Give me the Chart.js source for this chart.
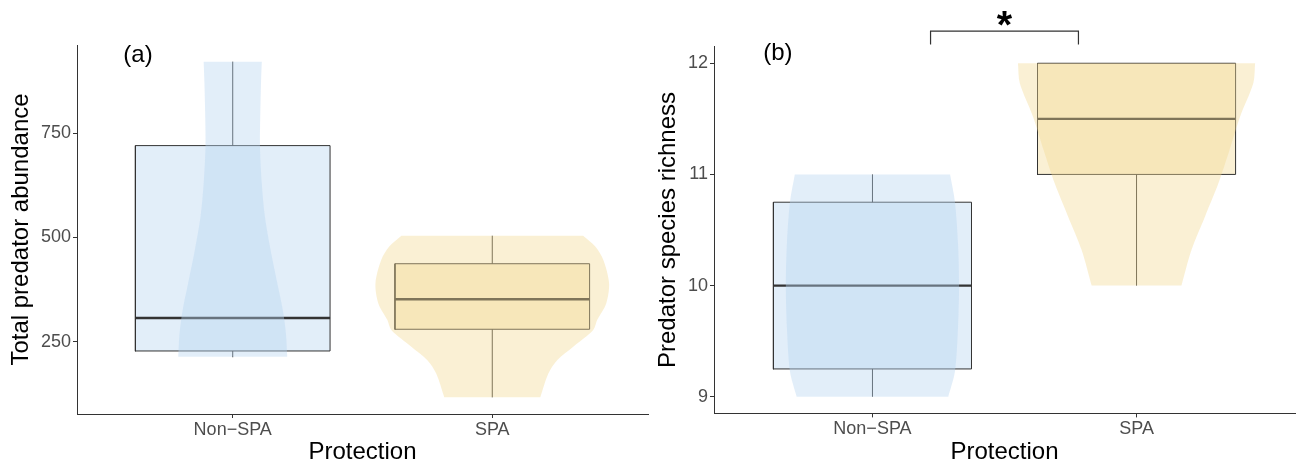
<!DOCTYPE html>
<html><head><meta charset="utf-8">
<script src="https://cdn.jsdelivr.net/npm/chart.js@4.4.1/dist/chart.umd.min.js"></script>
<style>
html,body{margin:0;padding:0;background:#fff;}
#wrap{position:relative;width:1300px;height:464px;overflow:hidden;}
canvas{position:absolute;top:0;}
#ca{left:0;} #cb{left:650px;}
</style></head><body>
<div id="wrap"><canvas id="ca" width="650" height="464"></canvas><canvas id="cb" width="650" height="464"></canvas></div>
<script>
// ---------- data ----------
const categories = ['Non\u2212SPA', 'SPA'];
const catPos = [1, 2];

// Panel (a): Total predator abundance
const abundMin = [213, 117];
const abundQ1  = [228, 280];
const abundMed = [307, 352];
const abundQ3  = [720, 437];
const abundMax = [921, 504];
const abundTicks = [250, 500, 750];
const abundRange = [77, 961];
const abundViolinNonSPAVals   = [214, 270, 326, 390, 470, 550, 630, 718, 790, 870, 921];
const abundViolinNonSPAWidths = [0.210, 0.205, 0.193, 0.172, 0.146, 0.124, 0.112, 0.105, 0.106, 0.109, 0.112];
const abundViolinSPAVals   = [117, 174, 206, 238, 278, 302, 342, 390, 446, 478, 504];
const abundViolinSPAWidths = [0.185, 0.216, 0.250, 0.312, 0.389, 0.404, 0.439, 0.450, 0.428, 0.397, 0.350];

// Panel (b): Predator species richness
const richMin = [9, 10];
const richQ1  = [9.25, 11];
const richMed = [10, 11.5];
const richQ3  = [10.75, 12];
const richMax = [11, 12];
const richTicks = [9, 10, 11, 12];
const richRange = [8.85, 12.15];
const richViolinNonSPAVals   = [9, 9.23, 9.62, 10, 10.38, 10.75, 11];
const richViolinNonSPAWidths = [0.287, 0.3125, 0.324, 0.328, 0.324, 0.3125, 0.294];
const richViolinSPAVals   = [10, 10.32, 10.62, 10.92, 11.22, 11.52, 11.82, 12];
const richViolinSPAWidths = [0.170, 0.208, 0.259, 0.310, 0.352, 0.392, 0.442, 0.449];

// significance annotation (panel b)
const sigBracketX = [1.22, 1.78];
const sigBracketY = [12.17, 12.29];
const sigLabel = '*';
const sigLabelPos = [1.5, 12.40];

// ---------- styles ----------
const FONT = '"Liberation Sans", Arial, Helvetica, sans-serif';
Chart.defaults.font.family = FONT;
const fills = ['rgba(183,212,240,0.4)', 'rgba(242,217,148,0.4)'];
const LINE = '#333333';
const BOXHALF = 0.375;

function boxDatasets(mn, q1, md, q3, mx) {
  const ds = [];
  catPos.forEach((c, i) => {
    ds.push({data: [{x:c-BOXHALF,y:q1[i]},{x:c+BOXHALF,y:q1[i]},{x:c+BOXHALF,y:q3[i]},{x:c-BOXHALF,y:q3[i]},{x:c-BOXHALF,y:q1[i]}],
      fill: 'shape', backgroundColor: fills[i], borderColor: LINE, borderWidth: 1, borderJoinStyle: 'miter', borderCapStyle: 'square', tension: 0, order: 3});
    ds.push({data: [{x:c-BOXHALF,y:md[i]},{x:c+BOXHALF,y:md[i]}], fill: false, borderColor: LINE, borderWidth: 2.4, tension: 0, order: 2});
    if (mx[i] > q3[i]) ds.push({data: [{x:c,y:q3[i]},{x:c,y:mx[i]}], fill: false, borderColor: LINE, borderWidth: 1, order: 2});
    if (mn[i] < q1[i]) ds.push({data: [{x:c,y:mn[i]},{x:c,y:q1[i]}], fill: false, borderColor: LINE, borderWidth: 1, order: 2});
  });
  return ds;
}
function violinDataset(c, vals, widths, color) {
  const pts = [];
  const n = vals.length;
  // right side, bottom -> top (corner points repeated so the flat ends stay flat)
  pts.push({x: c + widths[0], y: vals[0]});
  for (let k = 0; k < n; k++) pts.push({x: c + widths[k], y: vals[k]});
  pts.push({x: c + widths[n-1], y: vals[n-1]});
  // left side, top -> bottom
  pts.push({x: c - widths[n-1], y: vals[n-1]});
  for (let k = n - 1; k >= 0; k--) pts.push({x: c - widths[k], y: vals[k]});
  pts.push({x: c - widths[0], y: vals[0]});
  return {data: pts, fill: 'shape', backgroundColor: color, borderWidth: 0, borderColor: 'rgba(0,0,0,0)', tension: 0.3, order: 1};
}

function makeScales(ticksArr, range, yTitle, yWidth, yTitlePad, xHeight) {
  return {
    x: {
      type: 'linear', min: 0.4, max: 2.6,
      afterBuildTicks: s => { s.ticks = catPos.map(v => ({value: v})); },
      afterFit: s => { s.height = xHeight; },
      grid: {drawOnChartArea: false, drawTicks: true, tickLength: 4, color: LINE, lineWidth: 1},
      border: {display: true, color: LINE, width: 1},
      ticks: {callback: (v, i) => categories[i], color: '#4d4d4d', font: {size: 18}, padding: 1, maxRotation: 0, autoSkip: false},
      title: {display: true, text: 'Protection', color: '#000', font: {size: 24, lineHeight: 1}, padding: {top: 0, bottom: 0}}
    },
    y: {
      type: 'linear', min: range[0], max: range[1],
      afterBuildTicks: s => { s.ticks = ticksArr.map(v => ({value: v})); },
      afterFit: s => { s.width = yWidth; },
      grid: {drawOnChartArea: false, drawTicks: true, tickLength: 4, color: LINE, lineWidth: 1},
      border: {display: true, color: LINE, width: 1},
      ticks: {color: '#4d4d4d', font: {size: 18}, padding: 2},
      title: {display: true, text: yTitle, color: '#000', font: {size: 24, lineHeight: 1}, padding: {top: yTitlePad, bottom: 0}}
    }
  };
}

function labelPlugin(txt, pos, star) {
  return {
    id: 'annot',
    afterDatasetsDraw(chart) {
      const ctx = chart.ctx, xs = chart.scales.x, ys = chart.scales.y;
      ctx.save();
      ctx.fillStyle = '#000';
      ctx.textAlign = 'center';
      ctx.textBaseline = 'middle';
      ctx.font = '24px ' + FONT;
      ctx.fillText(txt, xs.getPixelForValue(pos[0]), ys.getPixelForValue(pos[1]));
      if (star) {
        ctx.font = 'bold 100px ' + FONT;
        const m = ctx.measureText(sigLabel);
        const h100 = m.actualBoundingBoxAscent + m.actualBoundingBoxDescent;
        const size = 100 * 15 / h100;
        ctx.font = 'bold ' + size + 'px ' + FONT;
        ctx.textBaseline = 'alphabetic';
        const m2 = ctx.measureText(sigLabel);
        const cx = xs.getPixelForValue(sigLabelPos[0]);
        const cy = ys.getPixelForValue(sigLabelPos[1]);
        const base = cy + (m2.actualBoundingBoxAscent - m2.actualBoundingBoxDescent) / 2;
        ctx.fillText(sigLabel, cx, base);
      }
      ctx.restore();
    }
  };
}

// ---------- chart (a) ----------
new Chart(document.getElementById('ca'), {
  type: 'line',
  data: {datasets: [
    ...boxDatasets(abundMin, abundQ1, abundMed, abundQ3, abundMax),
    violinDataset(catPos[0], abundViolinNonSPAVals, abundViolinNonSPAWidths, fills[0]),
    violinDataset(catPos[1], abundViolinSPAVals, abundViolinSPAWidths, fills[1])
  ]},
  options: {
    responsive: false, animation: false, devicePixelRatio: 1,
    layout: {padding: {left: 0, right: 2, top: 45, bottom: 0}},
    elements: {point: {radius: 0, hoverRadius: 0}},
    plugins: {legend: {display: false}, tooltip: {enabled: false}},
    events: [],
    scales: makeScales(abundTicks, abundRange, 'Total predator abundance', 77, 9, 50)
  },
  plugins: [labelPlugin('(a)', [0.635, 937], false)]
});

// ---------- chart (b) ----------
new Chart(document.getElementById('cb'), {
  type: 'line',
  data: {datasets: [
    ...boxDatasets(richMin, richQ1, richMed, richQ3, richMax),
    violinDataset(catPos[0], richViolinNonSPAVals, richViolinNonSPAWidths, fills[0]),
    violinDataset(catPos[1], richViolinSPAVals, richViolinSPAWidths, fills[1]),
    {data: [{x:sigBracketX[0],y:sigBracketY[0]},{x:sigBracketX[0],y:sigBracketY[1]},{x:sigBracketX[1],y:sigBracketY[1]},{x:sigBracketX[1],y:sigBracketY[0]}],
     fill: false, borderColor: LINE, borderWidth: 1.2, borderJoinStyle: 'miter', tension: 0, clip: false, order: 0}
  ]},
  options: {
    responsive: false, animation: false, devicePixelRatio: 1,
    layout: {padding: {left: 0, right: 5, top: 46.6, bottom: 0}},
    elements: {point: {radius: 0, hoverRadius: 0}},
    plugins: {legend: {display: false}, tooltip: {enabled: false}},
    events: [],
    scales: makeScales(richTicks, richRange, 'Predator species richness', 64, 6, 50.6)
  },
  plugins: [labelPlugin('(b)', [0.642, 12.09], true)]
});
</script>
</body></html>
